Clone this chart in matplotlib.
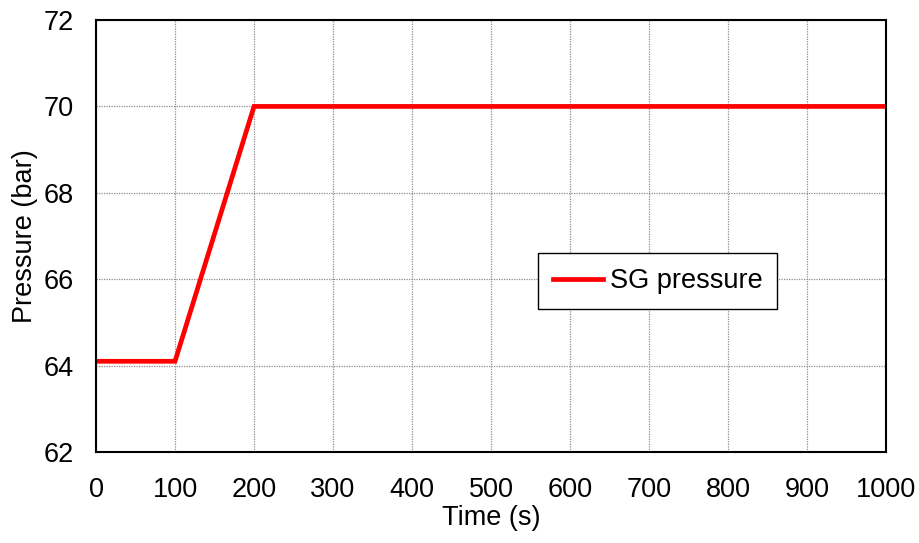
import matplotlib.pyplot as plt

time_s = [0, 100, 200, 1000]
sg_pressure = [64.1, 64.1, 70.0, 70.0]

x_ticks = list(range(0, 1001, 100))
y_ticks = list(range(62, 73, 2))

plt.rcParams["font.family"] = ["Liberation Sans", "DejaVu Sans"]

fig = plt.figure(figsize=(9.19, 5.43), dpi=100)
ax = fig.add_axes([0.1045, 0.1676, 0.8595, 0.7955])

ax.plot(time_s, sg_pressure, color="#ff0000", lw=3.4, label="SG pressure",
        solid_joinstyle="miter")

ax.set_xlim(0, 1000)
ax.set_ylim(62, 72)
ax.set_xticks(x_ticks)
ax.set_yticks(y_ticks)
ax.tick_params(length=0, labelsize=19.5)
ax.tick_params(axis="x", pad=18)
ax.tick_params(axis="y", pad=16)
ax.grid(True, color="#8c8c8c", ls=(0, (1, 1)), lw=0.9)
for s in ax.spines.values():
    s.set_linewidth(1.5)
    s.set_color("black")

ax.set_xlabel("Time (s)", fontsize=19.5, labelpad=1.5)
ax.set_ylabel("Pressure (bar)", fontsize=19.5, labelpad=4)

leg = ax.legend(loc="lower left", bbox_to_anchor=(0.5595, 0.331),
                borderaxespad=0, fontsize=19.5,
                fancybox=False, framealpha=1, edgecolor="black",
                handlelength=1.85, handletextpad=0.25, borderpad=0.55)
leg.get_frame().set_linewidth(1.0)

fig.savefig("out.png", dpi=100)
